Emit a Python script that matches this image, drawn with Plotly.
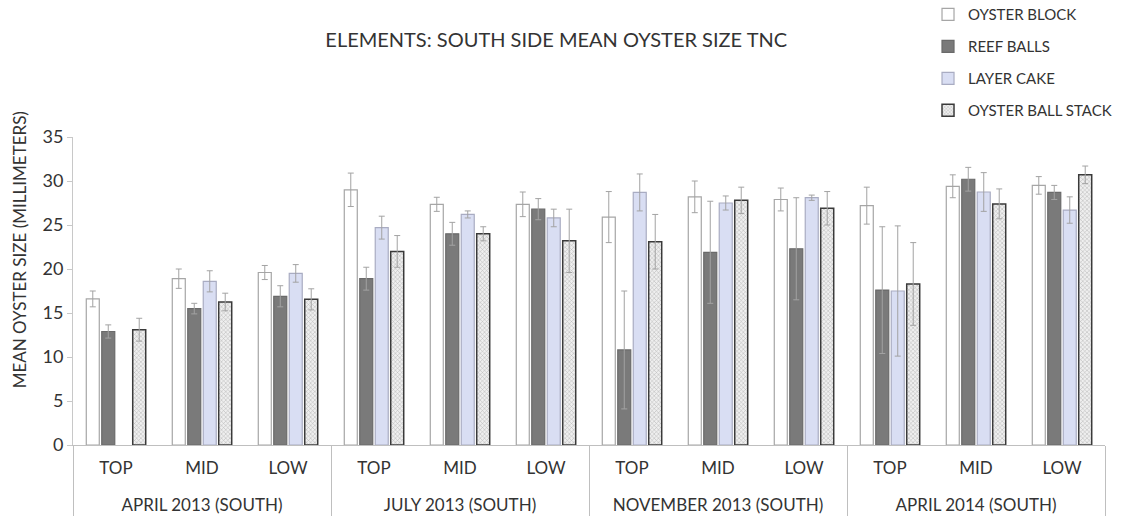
import plotly.graph_objects as go

# Sampling periods and reef positions
periods = ["APRIL 2013 (SOUTH)", "JULY 2013 (SOUTH)", "NOVEMBER 2013 (SOUTH)", "APRIL 2014 (SOUTH)"]
positions = ["TOP", "MID", "LOW"]

# Mean oyster size (mm), ordered period by period, TOP/MID/LOW within each
oyster_block = [16.6, 18.9, 19.6, 29.0, 27.35, 27.35, 25.9, 28.2, 27.9, 27.2, 29.4, 29.5]
reef_balls = [12.9, 15.5, 16.9, 18.9, 24.0, 26.8, 10.8, 21.9, 22.3, 17.6, 30.2, 28.7]
layer_cake = [None, 18.6, 19.5, 24.7, 26.2, 25.8, 28.7, 27.5, 28.1, 17.5, 28.75, 26.7]
oyster_ball_stack = [13.1, 16.25, 16.55, 22.0, 24.0, 23.2, 23.1, 27.8, 26.9, 18.3, 27.4, 30.7]

# Error bar half-lengths (mm)
oyster_block_err = [0.9, 1.1, 0.8, 1.9, 0.8, 1.4, 2.9, 1.8, 1.3, 2.1, 1.3, 1.0]
reef_balls_err = [0.75, 0.6, 1.2, 1.3, 1.3, 1.2, 6.7, 5.8, 5.8, 7.2, 1.35, 0.8]
layer_cake_err = [None, 1.2, 1.0, 1.3, 0.4, 1.0, 2.1, 0.8, 0.3, 7.4, 2.2, 1.5]
oyster_ball_stack_err = [1.3, 1.0, 1.2, 1.8, 0.8, 3.6, 3.1, 1.5, 1.9, 4.7, 1.7, 1.0]

x_period = [p for p in periods for _ in positions]
# A blank second line under each position label leaves room above the period row
x_position = [q + "<br>\u00a0" for _ in periods for q in positions]
x = [x_period, x_position]

FONT = "Lato, Open Sans, sans-serif"
TEXT = "#333333"
ERR = "#a3a3a3"

series = [
    ("OYSTER BLOCK", oyster_block, oyster_block_err,
     dict(color="#ffffff", line=dict(color="#a6a6a6", width=1.2))),
    ("REEF BALLS", reef_balls, reef_balls_err,
     dict(color="#7a7a7a", line=dict(color="#6a6a6a", width=1.2))),
    ("LAYER CAKE", layer_cake, layer_cake_err,
     dict(color="#d9def3", line=dict(color="#a9acc2", width=1.2))),
    ("OYSTER BALL STACK", oyster_ball_stack, oyster_ball_stack_err,
     dict(color="#ebebeb", line=dict(color="#3a3a3a", width=1.5),
          pattern=dict(shape="x", size=3, solidity=0.3,
                       fgcolor="#b3b3b3", bgcolor="#efefef", fillmode="replace"))),
]

fig = go.Figure()
for i, (name, vals, errs, marker) in enumerate(series):
    fig.add_trace(go.Bar(
        name=name,
        x=x,
        y=vals,
        marker=marker,
        legendgroup=f"g{i}",
        error_y=dict(type="data", array=[e if e is not None else 0 for e in errs],
                     visible=True, color=ERR, thickness=1, width=3),
    ))

fig.update_layout(
    width=1126,
    height=521,
    barmode="group",
    bargap=0.28,
    bargroupgap=0.16,
    plot_bgcolor="white",
    paper_bgcolor="white",
    font=dict(family=FONT, size=15, color=TEXT),
    margin=dict(l=73, r=21, t=137, b=76, autoexpand=False),
    title=dict(text="ELEMENTS: SOUTH SIDE MEAN OYSTER SIZE TNC",
               x=0.494, xref="container", xanchor="center",
               y=0.923, yref="container", yanchor="middle",
               font=dict(family=FONT, size=20, color=TEXT)),
    legend=dict(x=0.8285, y=1.451, xanchor="left", yanchor="top",
                xref="paper", yref="paper",
                font=dict(family=FONT, size=15, color=TEXT),
                tracegroupgap=9.5, itemwidth=30,
                bgcolor="rgba(0,0,0,0)"),
    showlegend=True,
    annotations=[dict(
        text="MEAN OYSTER SIZE (MILLIMETERS)",
        textangle=-90, showarrow=False,
        xref="paper", yref="paper", x=-0.052, y=0.633,
        xanchor="center", yanchor="middle",
        font=dict(family=FONT, size=17, color=TEXT),
    )],
)

fig.update_yaxes(
    range=[0, 35],
    dtick=5,
    showgrid=False,
    zeroline=False,
    showline=True,
    linecolor="#c8c8c8",
    linewidth=1,
    ticks="outside",
    ticklen=5,
    tickcolor="#c8c8c8",
    tickfont=dict(family=FONT, size=18, color=TEXT),
)

fig.update_xaxes(
    type="multicategory",
    showgrid=False,
    showline=True,
    linecolor="#bfbfbf",
    linewidth=1,
    showdividers=True,
    dividercolor="#bfbfbf",
    dividerwidth=1,
    ticks="",
    ticklabelstandoff=8,
    tickfont=dict(family=FONT, size=17, color=TEXT),
)

fig.write_html("out.html")
